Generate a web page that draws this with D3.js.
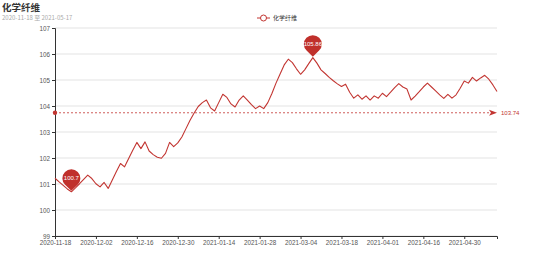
<!DOCTYPE html>
<html>
<head>
<meta charset="utf-8">
<script src="https://cdn.jsdelivr.net/npm/d3@7"></script>
<style>
  body { margin: 0; background: #fff; overflow: hidden; }
  svg { display: block; }
  text { font-family: "Noto Sans CJK SC", "Liberation Sans", sans-serif; }
</style>
</head>
<body>
<div id="chart"></div>
<script>
const title = '化学纤维';
const subtitle = '2020-11-18 至 2021-05-17';
const seriesName = '化学纤维';

const dates = [
    '2020-11-18', '2020-11-19', '2020-11-20', '2020-11-23', '2020-11-24', '2020-11-25', '2020-11-26', '2020-11-27', '2020-11-30',
    '2020-12-01', '2020-12-02', '2020-12-03', '2020-12-04', '2020-12-07', '2020-12-08', '2020-12-09', '2020-12-10', '2020-12-11',
    '2020-12-14', '2020-12-15', '2020-12-16', '2020-12-17', '2020-12-18', '2020-12-21', '2020-12-22', '2020-12-23', '2020-12-24',
    '2020-12-25', '2020-12-28', '2020-12-29', '2020-12-30', '2020-12-31',
    '2021-01-04', '2021-01-05', '2021-01-06', '2021-01-07', '2021-01-08', '2021-01-11', '2021-01-12', '2021-01-13', '2021-01-14',
    '2021-01-15', '2021-01-18', '2021-01-19', '2021-01-20', '2021-01-21', '2021-01-22', '2021-01-25', '2021-01-26', '2021-01-27',
    '2021-01-28', '2021-01-29',
    '2021-02-01', '2021-02-02', '2021-02-03', '2021-02-04', '2021-02-05', '2021-02-08', '2021-02-09', '2021-02-10',
    '2021-03-04', '2021-03-05', '2021-03-08', '2021-03-09', '2021-03-10', '2021-03-11', '2021-03-12', '2021-03-15', '2021-03-16',
    '2021-03-17', '2021-03-18', '2021-03-19', '2021-03-22', '2021-03-23', '2021-03-24', '2021-03-25', '2021-03-26', '2021-03-29',
    '2021-03-30', '2021-03-31',
    '2021-04-01', '2021-04-02', '2021-04-06', '2021-04-07', '2021-04-08', '2021-04-09', '2021-04-12', '2021-04-13', '2021-04-14',
    '2021-04-15', '2021-04-16', '2021-04-19', '2021-04-20', '2021-04-21', '2021-04-22', '2021-04-23', '2021-04-26', '2021-04-27',
    '2021-04-28', '2021-04-29', '2021-04-30',
    '2021-05-06', '2021-05-07', '2021-05-10', '2021-05-11', '2021-05-12', '2021-05-13', '2021-05-14', '2021-05-17'
];

const values = [
    101.22, 101.08, 100.95, 100.81, 100.70, 100.85, 101.01, 101.18, 101.34, 101.21,
    101.01, 100.89, 101.06, 100.83, 101.15, 101.48, 101.79, 101.66, 101.98, 102.30,
    102.60, 102.36, 102.62, 102.27, 102.13, 102.03, 101.99, 102.18, 102.60, 102.44,
    102.58, 102.81, 103.13, 103.45, 103.73, 103.98, 104.13, 104.23, 103.93, 103.81,
    104.13, 104.45, 104.33, 104.08, 103.96, 104.23, 104.39, 104.23, 104.05, 103.90,
    104.00, 103.90, 104.13, 104.48, 104.88, 105.23, 105.58, 105.80, 105.67, 105.43,
    105.22, 105.39, 105.63, 105.86, 105.65, 105.39, 105.25, 105.10, 104.97, 104.85,
    104.75, 104.84, 104.53, 104.30, 104.43, 104.26, 104.39, 104.23, 104.39, 104.30,
    104.49, 104.36, 104.53, 104.71, 104.86, 104.73, 104.65, 104.23, 104.38, 104.55,
    104.73, 104.88, 104.73, 104.58, 104.43, 104.29, 104.45, 104.30, 104.43, 104.68,
    104.96, 104.88, 105.10, 104.96, 105.08, 105.18, 105.03, 104.81, 104.56
];

const yTicks = [99, 100, 101, 102, 103, 104, 105, 106, 107];
const xTickLabels = ['2020-11-18', '2020-12-02', '2020-12-16', '2020-12-30', '2021-01-14', '2021-01-28',
    '2021-03-04', '2021-03-18', '2021-04-01', '2021-04-16', '2021-04-30'];

const data = dates.map((d, i) => ({ date: d, value: values[i] }));

const outerWidth = 554;
const outerHeight = 265;
const margin = { top: 28, left: 55, bottom: 29, right: 57 };
const innerWidth = outerWidth - margin.left - margin.right;
const innerHeight = outerHeight - margin.top - margin.bottom;
const color = '#c23531';

const xScale = d3.scalePoint()
    .domain(dates)
    .range([0, innerWidth]);

const yScale = d3.scaleLinear()
    .domain([99, 107])
    .range([innerHeight, 0]);

const root = d3.select('#chart')
    .append('svg')
        .attr('width', outerWidth)
        .attr('height', outerHeight);

// title + subtitle
root.append('text')
    .attr('x', 2)
    .attr('y', 11)
    .attr('font-size', 9.5)
    .attr('font-weight', 'bold')
    .attr('fill', '#333')
    .text(title);

root.append('text')
    .attr('x', 2)
    .attr('y', 20)
    .attr('font-size', 6)
    .attr('fill', '#aaa')
    .text(subtitle);

// legend
const legend = root.append('g')
    .attr('transform', 'translate(257, 18)');

legend.append('line')
    .attr('x1', 0)
    .attr('x2', 13)
    .attr('stroke', color)
    .attr('stroke-width', 1);

legend.append('circle')
    .attr('cx', 6.5)
    .attr('r', 3)
    .attr('fill', '#fff')
    .attr('stroke', color)
    .attr('stroke-width', 1);

legend.append('text')
    .attr('x', 16)
    .attr('y', 2)
    .attr('font-size', 6)
    .attr('fill', '#333')
    .text(seriesName);

const svg = root.append('g')
    .attr('transform', `translate(${margin.left},${margin.top})`);

// grid
svg.append('g')
    .selectAll('line')
    .data(yTicks)
    .join('line')
        .attr('x1', 0)
        .attr('x2', innerWidth)
        .attr('y1', d => yScale(d))
        .attr('y2', d => yScale(d))
        .attr('stroke', '#e3e3e3')
        .attr('stroke-width', 1);

// axes
const yAxis = d3.axisLeft(yScale)
    .tickValues(yTicks)
    .tickSize(3)
    .tickPadding(2);

const yAxisG = svg.append('g').call(yAxis);

const xAxis = d3.axisBottom(xScale)
    .tickValues(xTickLabels)
    .tickSize(3)
    .tickPadding(2);

const xAxisG = svg.append('g')
    .attr('transform', `translate(0, ${innerHeight})`)
    .call(xAxis);

[xAxisG, yAxisG].forEach(g => {
    g.attr('font-size', 6.3)
        .attr('font-family', '"Liberation Sans", sans-serif');
    g.select('.domain').attr('stroke', '#333').attr('stroke-width', 1);
    g.selectAll('.tick line').attr('stroke', '#333');
    g.selectAll('.tick text')
        .attr('fill', '#555')
        .style('font-family', '"Liberation Sans", sans-serif');
});

// line
const lineGenerator = d3.line()
    .x(d => xScale(d.date))
    .y(d => yScale(d.value));

svg.append('path')
    .attr('d', lineGenerator(data))
    .attr('fill', 'none')
    .attr('stroke', color)
    .attr('stroke-width', 1.1)
    .attr('stroke-linejoin', 'round');

// average mark line
const avg = d3.mean(values);
const yAvg = yScale(avg);

svg.append('line')
    .attr('x1', 0)
    .attr('x2', innerWidth - 6)
    .attr('y1', yAvg)
    .attr('y2', yAvg)
    .attr('stroke', color)
    .attr('stroke-width', 0.8)
    .attr('stroke-dasharray', '2,2');

svg.append('circle')
    .attr('cx', 0)
    .attr('cy', yAvg)
    .attr('r', 2.2)
    .attr('fill', color);

svg.append('path')
    .attr('d', `M${innerWidth},${yAvg} L${innerWidth - 8},${yAvg - 3} L${innerWidth - 6},${yAvg} L${innerWidth - 8},${yAvg + 3} Z`)
    .attr('fill', color);

svg.append('text')
    .attr('x', innerWidth + 4)
    .attr('y', yAvg + 2)
    .attr('font-size', 6)
    .attr('fill', color)
    .style('font-family', '"Liberation Sans", sans-serif')
    .text(avg.toFixed(2));

// min / max pins
const minIdx = d3.minIndex(values);
const maxIdx = d3.maxIndex(values);
const r = 9;
const c = 12.5;
const tx = r * Math.sqrt(1 - (r / c) ** 2);
const ty = -c + r * r / c;
const pinPath = `M0,0 L${-tx},${ty} A${r},${r} 0 1 1 ${tx},${ty} Z`;

const pins = svg.selectAll('.pin')
    .data([data[maxIdx], data[minIdx]])
    .join('g')
        .classed('pin', true)
        .attr('transform', d => `translate(${xScale(d.date)},${yScale(d.value) - 1})`);

pins.append('path')
    .attr('d', pinPath)
    .attr('fill', '#c0302b');

pins.append('text')
    .attr('x', 0)
    .attr('y', -c + 2)
    .attr('text-anchor', 'middle')
    .attr('font-size', 6)
    .attr('fill', '#fff')
    .style('font-family', '"Liberation Sans", sans-serif')
    .text(d => +d.value.toFixed(2));
</script>
</body>
</html>
